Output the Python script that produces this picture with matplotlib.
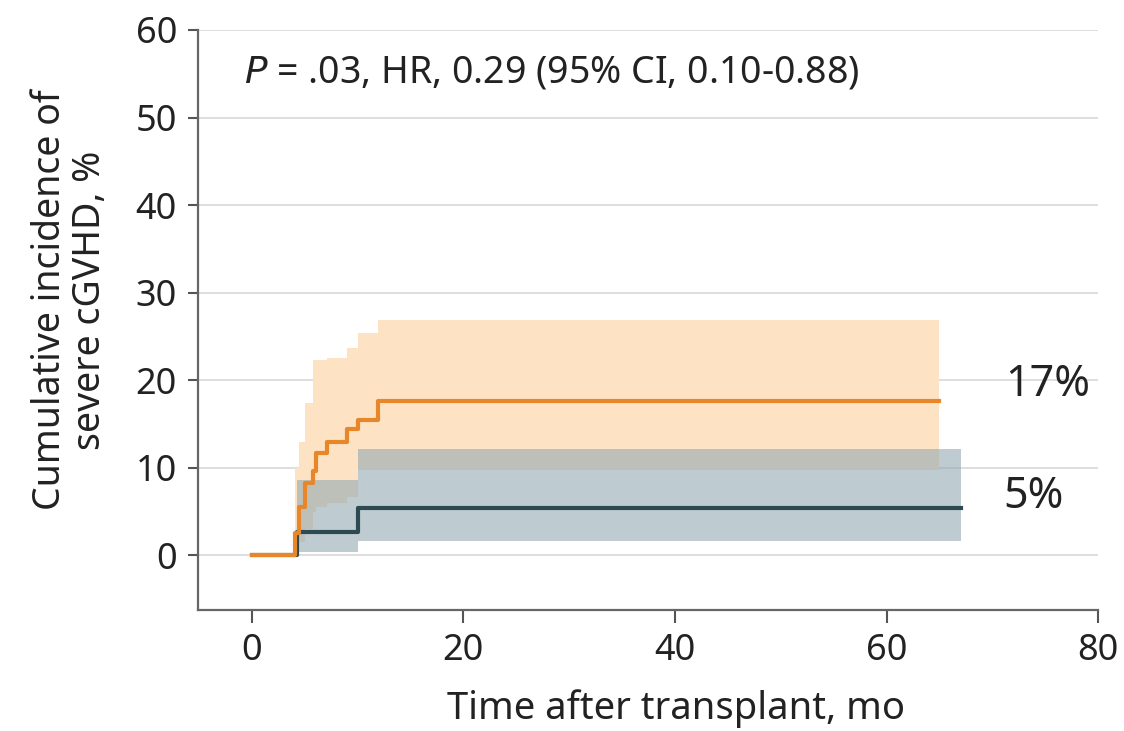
import matplotlib
matplotlib.use("Agg")
import matplotlib.pyplot as plt

# cumulative incidence of severe cGVHD (step functions), % vs months
orange_t = [0, 4.1, 4.5, 5.0, 5.8, 6.1, 7.1, 9.0, 10.0, 11.9, 65]
orange_y = [0, 2.6, 5.5, 8.3, 9.6, 11.7, 13.0, 14.4, 15.5, 17.6, 17.6]
orange_lo = [0, 0.5, 1.5, 3.0, 5.0, 5.5, 6.0, 6.7, 9.8, 9.8, 9.8]
orange_hi = [0, 10.0, 13.0, 17.4, 22.3, 22.3, 22.5, 23.7, 25.4, 26.9, 26.9]

blue_t = [0, 4.3, 10.0, 67]
blue_y = [0, 2.7, 5.4, 5.4]
blue_lo = [0, 0.4, 1.6, 1.6]
blue_hi = [0, 8.6, 12.2, 12.2]

yticks = [0, 10, 20, 30, 40, 50, 60]
xticks = [0, 20, 40, 60, 80]

plt.rcParams['font.family'] = ['Noto Sans', 'DejaVu Sans']

fig = plt.figure(figsize=(11.24, 7.31), dpi=100)
ax = fig.add_axes([0.176, 0.166, 0.801, 0.793])

for y in yticks:
    ax.axhline(y, color="#d4d4d4", lw=1.1, zorder=0)

# confidence bands
ax.fill_between(orange_t[1:], orange_lo[1:], orange_hi[1:], step="post",
                color="#fde2c4", lw=0, zorder=1)
ax.fill_between(blue_t[1:], blue_lo[1:], blue_hi[1:], step="post",
                color="#8fa8b0", alpha=0.58, lw=0, zorder=2)

ax.step(blue_t, blue_y, where="post", color="#2d4a52", lw=3, zorder=3)
ax.step(orange_t, orange_y, where="post", color="#e8862a", lw=3, zorder=4)

ax.text(-0.7, 55.2, r"$P$ = .03, HR, 0.29 (95% CI, 0.10-0.88)", fontsize=27,
        va="center", ha="left", color="#222222")
ax.text(71.2, 19.5, "17%", fontsize=31, va="center", ha="left", color="#222222")
ax.text(71.0, 6.7, "5%", fontsize=31, va="center", ha="left", color="#222222")

ax.set_xlim(-5.1, 80)
ax.set_ylim(-6.2, 60)
ax.set_xticks(xticks)
ax.set_yticks(yticks)
ax.tick_params(axis="both", labelsize=26, colors="#555555", labelcolor="#222222",
               width=1.5, length=7)
ax.tick_params(axis="x", length=9, pad=8)
ax.tick_params(axis="y", pad=8)

for s in ["top", "right"]:
    ax.spines[s].set_visible(False)
for s in ["left", "bottom"]:
    ax.spines[s].set_color("#666666")
    ax.spines[s].set_linewidth(1.6)

ax.set_xlabel("Time after transplant, mo", fontsize=27.5, color="#222222")
ax.xaxis.set_label_coords(0.531, -0.138)
ax.set_ylabel("Cumulative incidence of\nsevere cGVHD, %", fontsize=27,
              color="#222222", linespacing=1.05)
ax.yaxis.set_label_coords(-0.099, 0.534)

fig.savefig("out.png", dpi=100)
